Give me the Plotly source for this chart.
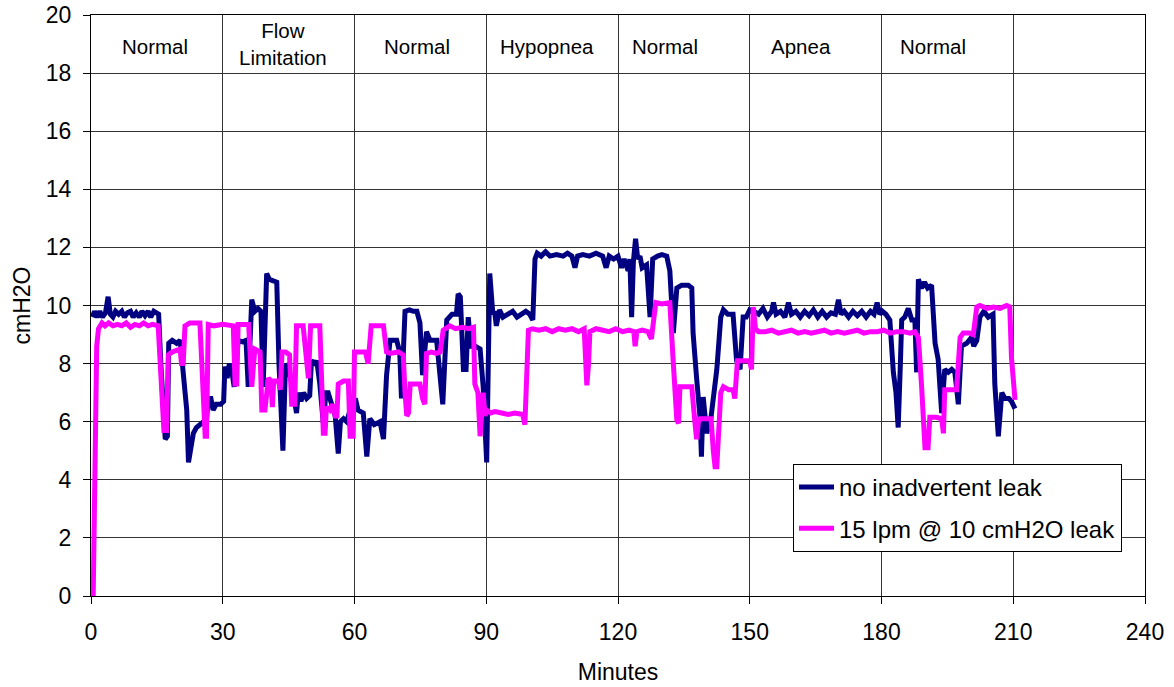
import plotly.graph_objects as go

# ---- data: no inadvertent leak (minutes, cmH2O) ----
noleak_min = [0.3, 0.8, 1.4, 2.0, 2.6, 3.3, 3.9, 4.4, 5.0, 5.6, 6.3, 7.0, 7.6, 8.3, 9.0, 9.6, 10.3, 11.0, 11.6, 12.3,
              13.0, 13.6, 14.3, 15.0, 15.4, 15.9, 16.5, 16.9, 17.4, 17.7, 18.5, 19.5, 20.3, 20.8, 21.4, 21.8, 22.2, 22.8,
              23.3, 24.0, 25.0, 25.6, 26.2, 26.7, 27.3, 27.8, 28.5, 29.5, 30.2, 30.5, 31.0, 31.5, 32.2, 32.6, 33.1, 33.5,
              34.5, 35.3, 35.8, 36.6, 37.3, 38.0, 38.7, 39.2, 40.0, 40.6, 41.5, 42.3, 42.8, 43.7, 44.3, 45.0, 45.6, 46.8,
              47.2, 47.8, 48.4, 49.1, 49.8, 50.2, 51.0, 51.4, 52.1, 52.9, 53.5, 54.0, 54.8, 55.6, 56.3, 56.8, 57.5, 58.2,
              59.4, 60.2, 60.8, 62.0, 62.8, 63.5, 64.5, 65.8, 66.6, 67.3, 68.1, 69.6, 70.3, 70.7, 71.5, 72.5, 73.4, 74.2,
              74.9, 75.5, 76.4, 77.2, 78.7, 79.4, 80.1, 81.0, 82.2, 83.2, 83.6, 84.1, 84.4, 84.8, 85.4, 85.9, 86.5, 87.5,
              88.6, 89.3, 90.1, 90.8, 91.5, 91.9, 92.3, 93.0, 93.8, 95.0, 96.0, 97.0, 98.0, 99.0, 99.9, 100.6, 101.1,
              101.6, 102.5, 103.5, 104.5, 106.0, 107.5, 108.5, 109.5, 110.2, 110.8, 112.0, 113.5, 115.0, 116.5, 117.3,
              118.0, 119.0, 120.0, 120.8, 121.4, 122.3, 122.7, 123.1, 123.5, 124.0, 124.5, 125.0, 125.5, 126.5, 127.3,
              127.9, 129.0, 130.0, 131.1, 131.8, 132.6, 133.4, 134.5, 136.0, 136.8, 137.1, 137.9, 138.7, 139.0, 139.4,
              140.2, 140.6, 140.9, 141.5, 142.5, 143.4, 144.0, 145.0, 146.2, 147.0, 147.8, 148.5, 149.2, 150.0, 151.0,
              152.0, 153.0, 154.0, 155.0, 155.4, 156.0, 157.0, 158.0, 158.8, 159.5, 160.5, 161.5, 162.5, 163.5, 164.5,
              165.5, 166.5, 167.5, 168.5, 169.5, 170.2, 170.8, 171.5, 172.5, 173.5, 174.5, 175.5, 176.5, 177.5, 178.3,
              179.0, 179.6, 180.2, 181.0, 181.9, 182.7, 183.3, 183.8, 184.3, 184.6, 185.3, 186.1, 186.9, 187.6, 188.0,
              188.4, 189.1, 189.8, 190.5, 191.4, 192.2, 192.9, 193.7, 194.4, 195.2, 196.0, 196.7, 197.5, 198.2, 199.4,
              200.5, 201.0, 201.7, 202.4, 203.3, 204.3, 205.4, 205.8, 206.6, 207.4, 208.1, 209.0, 209.6, 210.4]
noleak_val = [9.6, 9.8, 9.6, 9.8, 9.6, 9.75, 10.3, 9.7, 9.6, 9.8, 9.7, 9.8, 9.6, 9.75, 9.8, 9.6, 9.75, 9.6, 9.8, 9.65,
              9.8, 9.6, 9.8, 9.7, 9.7, 8.0, 6.5, 5.4, 5.5, 8.7, 8.8, 8.7, 8.8, 8.0, 6.6, 6.4, 4.6, 5.3,
              5.6, 5.8, 5.9, 6.0, 5.9, 6.8, 6.8, 6.4, 6.6, 6.6, 6.7, 7.9, 7.5, 8.0, 7.6, 7.2, 8.0, 8.8,
              8.75, 8.8, 7.2, 10.2, 9.8, 9.9, 9.8, 7.2, 11.1, 10.9, 10.85, 10.8, 8.0, 5.0, 8.0, 7.8, 7.4, 6.3,
              7.0, 6.7, 7.0, 6.8, 6.9, 8.1, 8.0, 8.1, 7.3, 5.95, 7.0, 7.0, 6.6, 6.2, 4.9, 6.0, 6.1, 6.0,
              6.6, 6.8, 6.4, 6.3, 4.8, 6.1, 5.9, 6.0, 5.4, 7.6, 8.8, 8.8, 8.4, 6.8, 9.8, 9.85, 9.8, 9.8,
              9.4, 7.6, 9.1, 8.8, 8.8, 7.6, 6.6, 9.5, 9.7, 9.7, 10.4, 10.3, 9.4, 7.8, 7.8, 9.6, 8.6, 8.6,
              8.5, 7.2, 4.6, 11.1, 9.7, 9.8, 9.3, 9.85, 9.6, 9.7, 9.8, 9.6, 9.7, 9.8, 9.7, 9.5, 11.6,
              11.8, 11.7, 11.85, 11.7, 11.75, 11.7, 11.8, 11.7, 11.3, 11.7, 11.75, 11.7, 11.8, 11.7, 11.3,
              11.7, 11.6, 11.7, 11.3, 11.6, 11.2, 11.6, 9.6, 11.5, 12.3, 11.6, 11.7, 11.3, 11.4, 9.6,
              11.6, 11.7, 11.75, 11.7, 11.2, 9.05, 10.6, 10.7, 10.7, 10.6, 9.05, 7.5, 6.1, 4.8, 6.85,
              5.6, 5.85, 5.8, 6.5, 7.8, 9.6, 9.85, 9.7, 9.7, 8.1, 7.8, 9.6, 9.6, 9.85, 9.8,
              9.7, 9.9, 9.6, 9.8, 10.1, 9.7, 9.8, 9.6, 10.1, 9.7, 9.8, 9.6, 9.8, 9.65, 9.85,
              9.6, 9.8, 9.6, 9.75, 9.7, 10.2, 9.7, 9.8, 9.6, 9.8, 9.65, 9.8, 9.6, 9.8, 9.7,
              10.1, 9.7, 9.8, 9.7, 9.5, 7.7, 7.0, 5.8, 8.0, 9.5, 9.6, 9.9, 9.5, 9.5, 7.7,
              10.9, 10.6, 10.8, 10.6, 10.7, 8.7, 8.15, 6.3, 7.8, 7.7, 7.8, 7.7, 6.6, 8.6, 8.7,
              8.9, 8.6, 8.8, 9.6, 9.8, 9.6, 9.7, 7.3, 5.5, 7.0, 6.8, 6.8, 6.7, 6.45]

# ---- data: 15 lpm @ 10 cmH2O leak (minutes, cmH2O) ----
leak_min = [0.5, 0.9, 1.3, 1.7, 2.5, 3.2, 4.0, 5.0, 6.0, 7.0, 8.0, 9.0, 10.0, 11.0, 12.0, 13.0, 14.0, 15.3, 15.8,
            16.6, 17.2, 17.6, 18.5, 20.3, 20.6, 21.0, 21.4, 22.5, 24.8, 25.6, 26.0, 26.3, 26.7, 28.0, 30.0, 32.4,
            32.8, 33.2, 33.5, 35.9, 36.6, 37.3, 38.5, 38.9, 39.6, 40.4, 41.0, 41.3, 41.6, 42.7, 43.1, 43.5, 44.3,
            45.2, 45.7, 46.4, 46.8, 48.3, 49.0, 49.5, 50.0, 51.0, 52.1, 52.5, 52.9, 53.3, 53.6, 54.4, 55.0, 55.6,
            56.0, 56.3, 57.5, 58.6, 59.0, 59.7, 60.0, 61.0, 62.5, 63.1, 63.8, 65.0, 66.6, 67.3, 68.1, 70.0, 71.1,
            71.5, 71.9, 72.3, 72.7, 74.0, 74.9, 75.5, 76.0, 76.4, 77.5, 78.7, 79.5, 80.2, 81.7, 83.0, 84.5, 86.0,
            87.1, 87.4, 88.1, 88.6, 88.9, 89.3, 89.7, 90.1, 91.0, 92.0, 93.5, 95.0, 96.5, 98.3, 98.8, 99.3, 99.6,
            100.5, 102.0, 103.5, 105.0, 106.5, 108.0, 109.5, 111.0, 112.3, 112.6, 112.9, 113.3, 113.6, 115.0,
            116.5, 118.0, 119.5, 121.0, 122.5, 123.6, 123.9, 124.3, 125.5, 126.8, 127.6, 128.6, 130.0, 131.8,
            132.6, 133.4, 133.8, 134.1, 135.5, 136.8, 137.5, 137.9, 138.3, 138.7, 140.0, 141.2, 141.7, 142.1,
            142.5, 143.0, 143.4, 144.0, 145.2, 146.2, 146.6, 147.2, 148.5, 150.0, 150.4, 150.8, 151.3, 152.0,
            153.5, 155.0, 156.5, 158.0, 159.5, 161.0, 162.5, 164.0, 165.5, 167.0, 168.5, 170.0, 171.5, 173.0,
            174.5, 176.0, 177.5, 179.0, 180.5, 182.0, 183.5, 185.0, 186.5, 187.6, 188.4, 189.1, 189.9, 190.6,
            191.0, 192.5, 193.7, 194.1, 194.4, 195.8, 197.1, 197.9, 198.6, 200.0, 200.9, 201.7, 202.4, 204.0,
            205.5, 207.0, 208.5, 209.2, 209.6, 210.4]
leak_val = [0.0, 5.0, 8.6, 9.2, 9.4, 9.3, 9.4, 9.3, 9.35, 9.3, 9.4, 9.25, 9.35, 9.3, 9.4, 9.3, 9.35, 9.3, 8.0,
            5.7, 5.7, 8.3, 8.4, 8.5, 8.0, 8.0, 9.3, 9.4, 9.4, 7.0, 5.5, 5.5, 9.35, 9.3, 9.35, 9.3,
            7.3, 7.3, 9.35, 9.35, 7.2, 8.5, 8.4, 6.4, 6.4, 7.5, 7.4, 6.5, 7.4, 7.4, 7.1, 8.4, 8.4,
            8.3, 6.6, 6.6, 9.3, 9.3, 8.2, 7.5, 9.3, 9.3, 9.3, 7.5, 5.6, 5.6, 6.5, 6.4, 6.6, 6.2,
            6.2, 7.3, 7.4, 7.4, 5.5, 5.5, 8.4, 8.4, 8.4, 8.0, 9.3, 9.3, 9.3, 8.4, 8.35, 8.4, 8.3,
            7.0, 6.2, 6.3, 7.3, 7.3, 7.3, 6.8, 6.6, 8.35, 8.4, 8.35, 8.4, 9.15, 9.3, 9.2, 9.25, 9.2,
            9.25, 7.3, 7.0, 5.5, 6.0, 7.0, 6.2, 6.4, 6.3, 6.35, 6.3, 6.25, 6.3, 6.25, 5.9, 7.5, 9.15,
            9.2, 9.15, 9.2, 9.1, 9.2, 9.15, 9.2, 9.1, 9.2, 8.0, 7.25, 8.0, 9.1, 9.2,
            9.15, 9.1, 9.2, 9.1, 9.15, 9.1, 8.6, 9.1, 9.15, 9.1, 8.85, 10.1, 10.05, 10.1,
            8.0, 6.05, 5.95, 7.2, 7.2, 7.2, 6.0, 5.4, 6.0, 6.1, 6.1, 6.1, 5.0, 4.45,
            4.45, 6.0, 7.0, 7.2, 7.1, 7.1, 6.8, 8.1, 8.1, 8.1, 7.8, 9.95, 9.2, 9.1,
            9.1, 9.15, 9.05, 9.1, 9.15, 9.05, 9.1, 9.05, 9.1, 9.15, 9.05, 9.1, 9.05, 9.1,
            9.15, 9.05, 9.1, 9.1, 9.15, 9.05, 9.1, 9.1, 9.05, 9.1, 8.9, 7.3, 5.1, 5.1,
            6.15, 6.15, 6.1, 5.6, 7.1, 7.1, 7.1, 8.9, 9.05, 9.05, 9.0, 9.95, 10.0, 9.9,
            9.95, 9.9, 10.0, 9.95, 8.2, 6.75]

series_names = ["no inadvertent leak", "15 lpm @ 10 cmH2O leak"]
series_colors = ["#000080", "#FF00FF"]

# ---- event labels across the top ----
event_labels = ["Normal", "Flow<br>Limitation", "Normal", "Hypopnea", "Normal", "Apnea", "Normal"]
event_pos = [14.5, 43.8, 74.3, 103.9, 130.7, 161.7, 191.8]
event_y = [18.93, 19.0, 18.93, 18.93, 18.93, 18.93, 18.93]

x_ticks = [0, 30, 60, 90, 120, 150, 180, 210, 240]
y_ticks = [0, 2, 4, 6, 8, 10, 12, 14, 16, 18, 20]

FONT = "Liberation Sans, Arial, sans-serif"

fig = go.Figure()
fig.add_trace(go.Scatter(x=noleak_min, y=noleak_val, mode="lines", name=series_names[0],
                         line=dict(color=series_colors[0], width=5), legendgroup="a"))
fig.add_trace(go.Scatter(x=leak_min, y=leak_val, mode="lines", name=series_names[1],
                         line=dict(color=series_colors[1], width=5), legendgroup="b"))

for lab, xp, yp in zip(event_labels, event_pos, event_y):
    fig.add_annotation(x=xp, y=yp, xref="x", yref="y", text=lab, showarrow=False,
                       font=dict(size=20.5, color="black", family=FONT), align="center")

grid = "#333333"
fig.update_layout(
    width=1174, height=687,
    margin=dict(l=91, r=29, t=15, b=91, autoexpand=False),
    paper_bgcolor="white", plot_bgcolor="white",
    font=dict(family=FONT, color="black"),
    showlegend=True,
    legend=dict(x=(793 - 91) / 1054, y=(596 - 464) / 581, xanchor="left", yanchor="top",
                bgcolor="white", bordercolor="black", borderwidth=1,
                font=dict(size=24, family=FONT, color="black"),
                itemwidth=35, tracegroupgap=7, traceorder="grouped"),
    xaxis=dict(range=[0, 240], tickvals=x_ticks, showgrid=True, gridcolor=grid, gridwidth=1,
               showline=True, linecolor="black", linewidth=1, mirror=True, zeroline=False,
               automargin=False, ticklabeloverflow="allow",
               ticks="outside", ticklen=7, tickcolor="black", tickfont=dict(size=23, family=FONT),
               ticklabelstandoff=8,
               title=dict(text="Minutes", font=dict(size=23, family=FONT), standoff=20)),
    yaxis=dict(range=[0, 20], tickvals=y_ticks, showgrid=True, gridcolor=grid, gridwidth=1,
               showline=True, linecolor="black", linewidth=1, mirror=True, zeroline=False,
               automargin=False, ticklabeloverflow="allow",
               ticks="outside", ticklen=7, tickcolor="black", tickfont=dict(size=23, family=FONT),
               ticklabelstandoff=7,
               title=dict(text="cmH2O", font=dict(size=23, family=FONT), standoff=8)),
)

# remove the browser's default 8px page margin so the figure sits at the window's corner
fig.write_html("out.html", config={"displayModeBar": False},
               post_script="document.body.style.margin='0px';")
